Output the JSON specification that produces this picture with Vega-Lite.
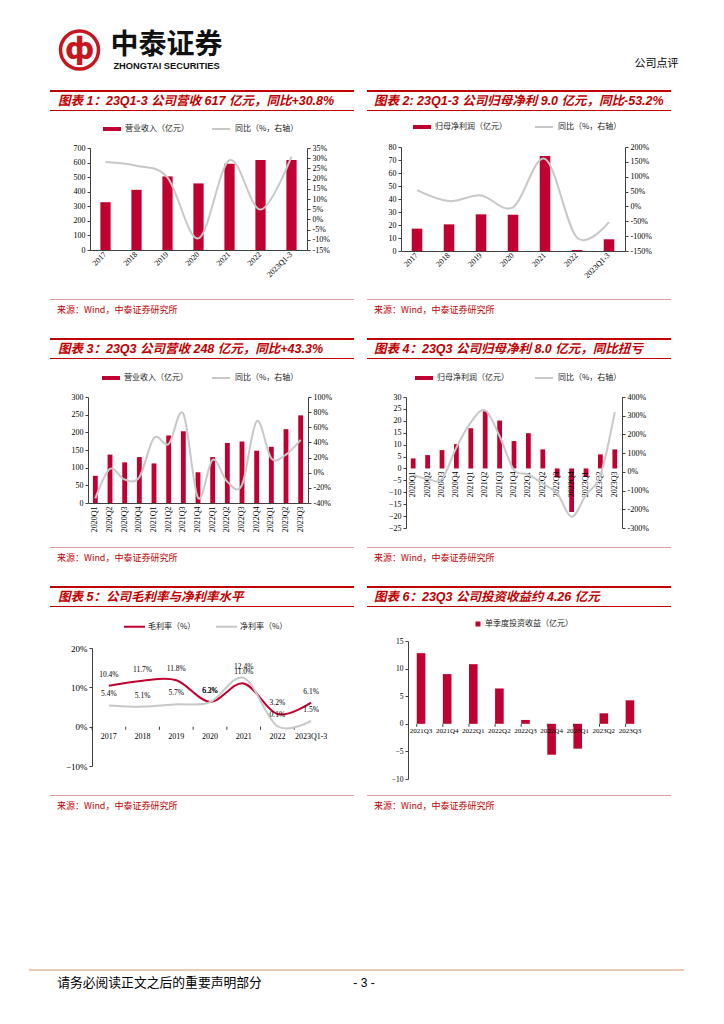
{
"$schema": "https://vega.github.io/schema/vega-lite/v6.json",
"padding": 0,
"background": "white",
"spacing": 0,
"resolve": {"scale": {"fill": "independent", "stroke": "independent"}, "legend": {"fill": "independent", "stroke": "independent"}},
"config": {
  "view": {"stroke": null},
  "concat": {"spacing": 0},
  "axis": {"labelFont": "Liberation Serif", "labelFontSize": 8, "labelColor": "#000000", "domainColor": "#404040", "tickColor": "#404040", "tickSize": 3, "labelPadding": 2, "grid": false, "titleFontSize": 1, "titleAngle": 0, "titleAlign": "left", "titleBaseline": "top", "titlePadding": 0},
  "legend": {"labelFont": "Noto Sans CJK SC", "labelFontSize": 8, "labelColor": "#1a1a1a", "padding": 0, "labelOffset": 4}
},
"vconcat": [
{"spacing": 0, "vconcat": [
  {"width": 724, "height": 24, "data": {"values": []}, "mark": "point"},
  {"spacing": 0, "hconcat": [
    {"width": 53, "height": 1, "data": {"values": []}, "mark": "point"},
    {"width": 43, "height": 42, "data": {"values": [{}]}, "layer": [
      {"mark": {"type": "point", "shape": "circle", "size": 1444, "filled": false, "color": "#C8161E", "strokeWidth": 3.5, "opacity": 1}},
      {"mark": {"type": "text", "text": "ф", "font": "DejaVu Sans", "fontSize": 30, "fontWeight": "bold", "color": "#C8161E"}}
    ]},
    {"width": 4, "height": 1, "data": {"values": []}, "mark": "point"},
    {"width": 113, "height": 44, "data": {"values": [{}]}, "layer": [
      {"mark": {"type": "text", "text": "中泰证券", "font": "Noto Sans CJK SC", "fontSize": 28, "fontWeight": "bold", "color": "#111111", "dy": -5}},
      {"mark": {"type": "text", "text": "ZHONGTAI SECURITIES", "font": "Liberation Sans", "fontSize": 9.3, "fontWeight": "bold", "color": "#111111", "dy": 14.5}}
    ]},
    {"width": 408, "height": 1, "data": {"values": []}, "mark": "point"},
    {"width": 51, "height": 46, "data": {"values": [{}]}, "mark": {"type": "text", "text": "公司点评", "font": "Noto Sans CJK SC", "fontSize": 11, "color": "#000000", "dy": 12}}
  ]},
  {"width": 724, "height": 14, "data": {"values": []}, "mark": "point"}
]},
{"spacing": 0,
 "resolve": {"scale": {"fill": "independent", "stroke": "independent"}, "legend": {"fill": "independent", "stroke": "independent"}},
 "hconcat": [
  {"width": 50, "height": 1, "data": {"values": []}, "mark": "point"},
  {"spacing": 0,
   "resolve": {"scale": {"fill": "independent", "stroke": "independent"}, "legend": {"fill": "independent", "stroke": "independent"}},
   "vconcat": [
    {"width": 304, "height": 2, "data": {"values": []}, "mark": "point", "view": {"fill": "#C00000"}},
    {"width": 304, "height": 18, "data": {"values": [{}]}, "mark": {"type": "text", "text": "图表 1：23Q1-3 公司营收 617 亿元，同比+30.8%", "align": "left", "baseline": "middle", "dx": 8, "font": "Liberation Sans, Noto Sans CJK SC", "fontSize": 12.5, "fontStyle": "italic", "fontWeight": "bold", "color": "#C00000"},
     "encoding": {"x": {"datum": 0, "type": "quantitative", "scale": {"domain": [0, 1]}, "axis": null}}},
    {"width": 304, "height": 1, "data": {"values": []}, "mark": "point", "view": {"fill": "#C00000"}},
    {"width": 304, "height": 3, "data": {"values": []}, "mark": "point"},
    {"spacing": 0, "resolve": {"scale": {"fill": "independent", "stroke": "independent"}, "legend": {"fill": "independent", "stroke": "independent"}}, "hconcat": [
      {"width": 10, "height": 1, "data": {"values": []}, "mark": "point"},
      {"width": 217, "height": 102,
       "data": {"values": [
         {"year": "2017", "rev": 328, "yoy": 28.1},
         {"year": "2018", "rev": 413, "yoy": 26.3},
         {"year": "2019", "rev": 505, "yoy": 20.5},
         {"year": "2020", "rev": 457, "yoy": -9.3},
         {"year": "2021", "rev": 592, "yoy": 29.0},
         {"year": "2022", "rev": 618, "yoy": 4.8},
         {"year": "2023Q1-3", "rev": 617, "yoy": 30.8}
       ]},
       "encoding": {"x": {"field": "year", "type": "ordinal", "sort": null, "scale": {"type": "band", "paddingInner": 0.67, "paddingOuter": 0.335},
         "axis": {"labelAngle": -45, "labelAlign": "right", "labelBaseline": "middle", "labelPadding": 3, "ticks": false, "title": " ", "titleX": 0, "titleY": 30, "titleFontSize": 1, "titleBaseline": "top", "titleAlign": "left", "titleAngle": 0}}},
       "layer": [
         {"mark": {"type": "bar"}, "encoding": {
           "y": {"field": "rev", "type": "quantitative", "scale": {"domain": [0, 700], "nice": false}, "axis": {"orient": "left", "values": [0, 100, 200, 300, 400, 500, 600, 700], "title": " ", "titleX": -30, "titleY": -34, "titleFontSize": 1, "titleBaseline": "top", "titleAlign": "left", "titleAngle": 0}},
           "fill": {"datum": "营业收入（亿元）", "type": "nominal", "scale": {"range": ["#C00030"]}, "legend": {"orient": "none", "legendX": 13, "legendY": -28, "title": null, "symbolType": "M-1,-0.22H1V0.22H-1Z", "symbolSize": 324, "symbolStrokeWidth": 0}}}},
         {"mark": {"type": "line", "interpolate": "cardinal", "strokeWidth": 2}, "encoding": {
           "y": {"field": "yoy", "type": "quantitative", "scale": {"domain": [-15, 35], "nice": false}, "axis": {"orient": "right", "values": [-15, -10, -5, 0, 5, 10, 15, 20, 25, 30, 35], "labelExpr": "datum.value + '%'", "title": null}},
           "stroke": {"datum": "同比（%，右轴）", "type": "nominal", "scale": {"range": ["#C8C8C8"]}, "legend": {"orient": "none", "legendX": 121, "legendY": -29, "title": null, "symbolType": "stroke", "symbolSize": 324, "symbolStrokeWidth": 2}}}}
       ],
       "resolve": {"scale": {"y": "independent"}}}
    ]},
    {"width": 304, "height": 18, "data": {"values": []}, "mark": "point"},
    {"width": 304, "height": 1, "data": {"values": []}, "mark": "point", "view": {"fill": "#E99A9A"}},
    {"width": 304, "height": 20, "data": {"values": [{}]}, "mark": {"type": "text", "text": "来源：Wind，中泰证券研究所", "align": "left", "baseline": "middle", "dx": 7, "font": "Noto Sans CJK SC", "fontSize": 9, "color": "#C00000"},
     "encoding": {"x": {"datum": 0, "type": "quantitative", "scale": {"domain": [0, 1]}, "axis": null}}},
    {"width": 304, "height": 18, "data": {"values": []}, "mark": "point"}
  ]},
  {"width": 13, "height": 1, "data": {"values": []}, "mark": "point"},
  {"spacing": 0,
   "resolve": {"scale": {"fill": "independent", "stroke": "independent"}, "legend": {"fill": "independent", "stroke": "independent"}},
   "vconcat": [
    {"width": 304, "height": 2, "data": {"values": []}, "mark": "point", "view": {"fill": "#C00000"}},
    {"width": 304, "height": 18, "data": {"values": [{}]}, "mark": {"type": "text", "text": "图表 2: 23Q1-3 公司归母净利 9.0 亿元，同比-53.2%", "align": "left", "baseline": "middle", "dx": 7, "font": "Liberation Sans, Noto Sans CJK SC", "fontSize": 12.5, "fontStyle": "italic", "fontWeight": "bold", "color": "#C00000"},
     "encoding": {"x": {"datum": 0, "type": "quantitative", "scale": {"domain": [0, 1]}, "axis": null}}},
    {"width": 304, "height": 1, "data": {"values": []}, "mark": "point", "view": {"fill": "#C00000"}},
    {"width": 304, "height": 2, "data": {"values": []}, "mark": "point"},
    {"spacing": 0, "resolve": {"scale": {"fill": "independent", "stroke": "independent"}, "legend": {"fill": "independent", "stroke": "independent"}}, "hconcat": [
      {"width": 4, "height": 1, "data": {"values": []}, "mark": "point"},
      {"width": 224, "height": 104,
       "data": {"values": [
         {"year": "2017", "np": 17.2, "yoy": 55},
         {"year": "2018", "np": 20.5, "yoy": 18},
         {"year": "2019", "np": 28.2, "yoy": 37},
         {"year": "2020", "np": 27.9, "yoy": -3},
         {"year": "2021", "np": 73.1, "yoy": 160},
         {"year": "2022", "np": 0.8, "yoy": -105},
         {"year": "2023Q1-3", "np": 9.0, "yoy": -53.2}
       ]},
       "encoding": {"x": {"field": "year", "type": "ordinal", "sort": null, "scale": {"type": "band", "paddingInner": 0.67, "paddingOuter": 0.335},
         "axis": {"labelAngle": -45, "labelAlign": "right", "labelBaseline": "middle", "labelPadding": 3, "ticks": false, "title": " ", "titleX": 0, "titleY": 30, "titleFontSize": 1, "titleBaseline": "top", "titleAlign": "left", "titleAngle": 0}}},
       "layer": [
         {"mark": {"type": "bar"}, "encoding": {
           "y": {"field": "np", "type": "quantitative", "scale": {"domain": [0, 80], "nice": false}, "axis": {"orient": "left", "values": [0, 10, 20, 30, 40, 50, 60, 70, 80], "title": " ", "titleX": -30, "titleY": -34, "titleFontSize": 1, "titleBaseline": "top", "titleAlign": "left", "titleAngle": 0}},
           "fill": {"datum": "归母净利润（亿元）", "type": "nominal", "scale": {"range": ["#C00030"]}, "legend": {"orient": "none", "legendX": 12, "legendY": -29, "title": null, "symbolType": "M-1,-0.22H1V0.22H-1Z", "symbolSize": 324, "symbolStrokeWidth": 0}}}},
         {"mark": {"type": "line", "interpolate": "cardinal", "strokeWidth": 2}, "encoding": {
           "y": {"field": "yoy", "type": "quantitative", "scale": {"domain": [-150, 200], "nice": false}, "axis": {"orient": "right", "values": [-150, -100, -50, 0, 50, 100, 150, 200], "labelExpr": "datum.value + '%'", "title": null}},
           "stroke": {"datum": "同比（%，右轴）", "type": "nominal", "scale": {"range": ["#C8C8C8"]}, "legend": {"orient": "none", "legendX": 133, "legendY": -30, "title": null, "symbolType": "stroke", "symbolSize": 324, "symbolStrokeWidth": 2}}}}
       ],
       "resolve": {"scale": {"y": "independent"}}}
    ]},
    {"width": 304, "height": 17, "data": {"values": []}, "mark": "point"},
    {"width": 304, "height": 1, "data": {"values": []}, "mark": "point", "view": {"fill": "#E99A9A"}},
    {"width": 304, "height": 20, "data": {"values": [{}]}, "mark": {"type": "text", "text": "来源：Wind，中泰证券研究所", "align": "left", "baseline": "middle", "dx": 7, "font": "Noto Sans CJK SC", "fontSize": 9, "color": "#C00000"},
     "encoding": {"x": {"datum": 0, "type": "quantitative", "scale": {"domain": [0, 1]}, "axis": null}}},
    {"width": 304, "height": 18, "data": {"values": []}, "mark": "point"}
  ]}
]},
{"spacing": 0,
 "resolve": {"scale": {"fill": "independent", "stroke": "independent"}, "legend": {"fill": "independent", "stroke": "independent"}},
 "hconcat": [
  {"width": 50, "height": 1, "data": {"values": []}, "mark": "point"},
  {"spacing": 0,
   "resolve": {"scale": {"fill": "independent", "stroke": "independent"}, "legend": {"fill": "independent", "stroke": "independent"}},
   "vconcat": [
    {"width": 304, "height": 2, "data": {"values": []}, "mark": "point", "view": {"fill": "#C00000"}},
    {"width": 304, "height": 18, "data": {"values": [{}]}, "mark": {"type": "text", "text": "图表 3：23Q3 公司营收 248 亿元，同比+43.3%", "align": "left", "baseline": "middle", "dx": 8, "font": "Liberation Sans, Noto Sans CJK SC", "fontSize": 12.5, "fontStyle": "italic", "fontWeight": "bold", "color": "#C00000"},
     "encoding": {"x": {"datum": 0, "type": "quantitative", "scale": {"domain": [0, 1]}, "axis": null}}},
    {"width": 304, "height": 1, "data": {"values": []}, "mark": "point", "view": {"fill": "#C00000"}},
    {"width": 304, "height": 4, "data": {"values": []}, "mark": "point"},
    {"spacing": 0, "resolve": {"scale": {"fill": "independent", "stroke": "independent"}, "legend": {"fill": "independent", "stroke": "independent"}}, "hconcat": [
      {"width": 8, "height": 1, "data": {"values": []}, "mark": "point"},
      {"width": 220, "height": 106,
       "data": {"values": [
         {"q": "2020Q1", "rev": 77, "yoy": -34},
         {"q": "2020Q2", "rev": 137, "yoy": 5},
         {"q": "2020Q3", "rev": 115, "yoy": -9},
         {"q": "2020Q4", "rev": 130, "yoy": -6},
         {"q": "2021Q1", "rev": 112, "yoy": 46},
         {"q": "2021Q2", "rev": 191, "yoy": 38},
         {"q": "2021Q3", "rev": 203, "yoy": 78},
         {"q": "2021Q4", "rev": 87, "yoy": -33},
         {"q": "2022Q1", "rev": 130, "yoy": 17},
         {"q": "2022Q2", "rev": 170, "yoy": -12},
         {"q": "2022Q3", "rev": 174, "yoy": -16},
         {"q": "2022Q4", "rev": 148, "yoy": 68},
         {"q": "2023Q1", "rev": 159, "yoy": 19},
         {"q": "2023Q2", "rev": 209, "yoy": 24},
         {"q": "2023Q3", "rev": 248, "yoy": 43.3}
       ]},
       "encoding": {"x": {"field": "q", "type": "ordinal", "sort": null, "scale": {"type": "band", "paddingInner": 0.67, "paddingOuter": 0.335},
         "axis": {"labelAngle": -90, "labelAlign": "right", "labelBaseline": "middle", "labelPadding": 3, "ticks": false, "title": " ", "titleX": 0, "titleY": 30, "titleFontSize": 1, "titleBaseline": "top", "titleAlign": "left", "titleAngle": 0}}},
       "layer": [
         {"mark": {"type": "bar"}, "encoding": {
           "y": {"field": "rev", "type": "quantitative", "scale": {"domain": [0, 300], "nice": false}, "axis": {"orient": "left", "values": [0, 50, 100, 150, 200, 250, 300], "title": " ", "titleX": -30, "titleY": -34, "titleFontSize": 1, "titleBaseline": "top", "titleAlign": "left", "titleAngle": 0}},
           "fill": {"datum": "营业收入（亿元）", "type": "nominal", "scale": {"range": ["#C00030"]}, "legend": {"orient": "none", "legendX": 14, "legendY": -28, "title": null, "symbolType": "M-1,-0.22H1V0.22H-1Z", "symbolSize": 324, "symbolStrokeWidth": 0}}}},
         {"mark": {"type": "line", "interpolate": "cardinal", "strokeWidth": 2}, "encoding": {
           "y": {"field": "yoy", "type": "quantitative", "scale": {"domain": [-40, 100], "nice": false}, "axis": {"orient": "right", "values": [-40, -20, 0, 20, 40, 60, 80, 100], "labelExpr": "datum.value + '%'", "title": null}},
           "stroke": {"datum": "同比（%，右轴）", "type": "nominal", "scale": {"range": ["#C8C8C8"]}, "legend": {"orient": "none", "legendX": 123, "legendY": -29, "title": null, "symbolType": "stroke", "symbolSize": 324, "symbolStrokeWidth": 2}}}}
       ],
       "resolve": {"scale": {"y": "independent"}}}
    ]},
    {"width": 304, "height": 13, "data": {"values": []}, "mark": "point"},
    {"width": 304, "height": 1, "data": {"values": []}, "mark": "point", "view": {"fill": "#E99A9A"}},
    {"width": 304, "height": 20, "data": {"values": [{}]}, "mark": {"type": "text", "text": "来源：Wind，中泰证券研究所", "align": "left", "baseline": "middle", "dx": 7, "font": "Noto Sans CJK SC", "fontSize": 9, "color": "#C00000"},
     "encoding": {"x": {"datum": 0, "type": "quantitative", "scale": {"domain": [0, 1]}, "axis": null}}},
    {"width": 304, "height": 18, "data": {"values": []}, "mark": "point"}
  ]},
  {"width": 13, "height": 1, "data": {"values": []}, "mark": "point"},
  {"spacing": 0,
   "resolve": {"scale": {"fill": "independent", "stroke": "independent"}, "legend": {"fill": "independent", "stroke": "independent"}},
   "vconcat": [
    {"width": 304, "height": 2, "data": {"values": []}, "mark": "point", "view": {"fill": "#C00000"}},
    {"width": 304, "height": 18, "data": {"values": [{}]}, "mark": {"type": "text", "text": "图表 4：23Q3 公司归母净利 8.0 亿元，同比扭亏", "align": "left", "baseline": "middle", "dx": 7, "font": "Liberation Sans, Noto Sans CJK SC", "fontSize": 12.5, "fontStyle": "italic", "fontWeight": "bold", "color": "#C00000"},
     "encoding": {"x": {"datum": 0, "type": "quantitative", "scale": {"domain": [0, 1]}, "axis": null}}},
    {"width": 304, "height": 1, "data": {"values": []}, "mark": "point", "view": {"fill": "#C00000"}},
    {"width": 304, "height": 4, "data": {"values": []}, "mark": "point"},
    {"spacing": 0, "resolve": {"scale": {"fill": "independent", "stroke": "independent"}, "legend": {"fill": "independent", "stroke": "independent"}}, "hconcat": [
      {"width": 9, "height": 1, "data": {"values": []}, "mark": "point"},
      {"width": 216, "height": 131,
       "data": {"values": [
         {"q": "2020Q1", "np": 4.2, "yoy": -16},
         {"q": "2020Q2", "np": 5.6, "yoy": -38},
         {"q": "2020Q3", "np": 7.7, "yoy": -38},
         {"q": "2020Q4", "np": 10.2, "yoy": 130},
         {"q": "2021Q1", "np": 16.9, "yoy": 265},
         {"q": "2021Q2", "np": 24.0, "yoy": 329},
         {"q": "2021Q3", "np": 20.1, "yoy": 190},
         {"q": "2021Q4", "np": 11.5, "yoy": 10},
         {"q": "2022Q1", "np": 14.8, "yoy": -13},
         {"q": "2022Q2", "np": 8.0, "yoy": -63},
         {"q": "2022Q3", "np": -3.8, "yoy": -115},
         {"q": "2022Q4", "np": -18.3, "yoy": -240},
         {"q": "2023Q1", "np": -3.6, "yoy": -123},
         {"q": "2023Q2", "np": 5.9, "yoy": -18},
         {"q": "2023Q3", "np": 8.0, "yoy": 320}
       ]},
       "encoding": {"x": {"field": "q", "type": "ordinal", "sort": null, "scale": {"type": "band", "paddingInner": 0.67, "paddingOuter": 0.335},
         "axis": {"labels": false, "ticks": false, "domain": false, "title": " ", "titleX": 0, "titleY": 6, "titleFontSize": 1, "titleBaseline": "top", "titleAlign": "left", "titleAngle": 0}}},
       "layer": [
         {"mark": {"type": "bar"}, "encoding": {
           "y": {"field": "np", "type": "quantitative", "scale": {"domain": [-25, 30], "nice": false}, "axis": {"orient": "left", "values": [-25, -20, -15, -10, -5, 0, 5, 10, 15, 20, 25, 30], "title": " ", "titleX": -30, "titleY": -34, "titleFontSize": 1, "titleBaseline": "top", "titleAlign": "left", "titleAngle": 0}},
           "fill": {"datum": "归母净利润（亿元）", "type": "nominal", "scale": {"range": ["#C00030"]}, "legend": {"orient": "none", "legendX": 9, "legendY": -28, "title": null, "symbolType": "M-1,-0.22H1V0.22H-1Z", "symbolSize": 324, "symbolStrokeWidth": 0}}}},
         {"mark": {"type": "rule", "color": "#404040", "strokeWidth": 1}, "encoding": {
           "y": {"datum": 0, "type": "quantitative", "scale": {"domain": [-25, 30], "nice": false}, "axis": null}}},
         {"mark": {"type": "text", "angle": 270, "align": "right", "baseline": "middle", "dx": -3, "font": "Liberation Serif", "fontSize": 8, "color": "#000000"}, "encoding": {
           "y": {"datum": 0, "type": "quantitative", "scale": {"domain": [-25, 30], "nice": false}, "axis": null},
           "text": {"field": "q"}}},
         {"mark": {"type": "line", "interpolate": "cardinal", "strokeWidth": 2}, "encoding": {
           "y": {"field": "yoy", "type": "quantitative", "scale": {"domain": [-300, 400], "nice": false}, "axis": {"orient": "right", "values": [-300, -200, -100, 0, 100, 200, 300, 400], "labelExpr": "datum.value + '%'", "title": null}},
           "stroke": {"datum": "同比（%，右轴）", "type": "nominal", "scale": {"range": ["#C8C8C8"]}, "legend": {"orient": "none", "legendX": 128, "legendY": -29, "title": null, "symbolType": "stroke", "symbolSize": 324, "symbolStrokeWidth": 2}}}}
       ],
       "resolve": {"scale": {"y": "independent"}}}
    ]},
    {"width": 304, "height": 12, "data": {"values": []}, "mark": "point"},
    {"width": 304, "height": 1, "data": {"values": []}, "mark": "point", "view": {"fill": "#E99A9A"}},
    {"width": 304, "height": 20, "data": {"values": [{}]}, "mark": {"type": "text", "text": "来源：Wind，中泰证券研究所", "align": "left", "baseline": "middle", "dx": 7, "font": "Noto Sans CJK SC", "fontSize": 9, "color": "#C00000"},
     "encoding": {"x": {"datum": 0, "type": "quantitative", "scale": {"domain": [0, 1]}, "axis": null}}},
    {"width": 304, "height": 18, "data": {"values": []}, "mark": "point"}
  ]}
]},
{"spacing": 0,
 "resolve": {"scale": {"fill": "independent", "stroke": "independent"}, "legend": {"fill": "independent", "stroke": "independent"}},
 "hconcat": [
  {"width": 50, "height": 1, "data": {"values": []}, "mark": "point"},
  {"spacing": 0,
   "resolve": {"scale": {"fill": "independent", "stroke": "independent"}, "legend": {"fill": "independent", "stroke": "independent"}},
   "vconcat": [
    {"width": 304, "height": 2, "data": {"values": []}, "mark": "point", "view": {"fill": "#C00000"}},
    {"width": 304, "height": 18, "data": {"values": [{}]}, "mark": {"type": "text", "text": "图表 5：公司毛利率与净利率水平", "align": "left", "baseline": "middle", "dx": 8, "font": "Liberation Sans, Noto Sans CJK SC", "fontSize": 12.5, "fontStyle": "italic", "fontWeight": "bold", "color": "#C00000"},
     "encoding": {"x": {"datum": 0, "type": "quantitative", "scale": {"domain": [0, 1]}, "axis": null}}},
    {"width": 304, "height": 1, "data": {"values": []}, "mark": "point", "view": {"fill": "#C00000"}},
    {"width": 304, "height": 3, "data": {"values": []}, "mark": "point"},
    {"spacing": 0, "resolve": {"scale": {"fill": "independent", "stroke": "independent"}, "legend": {"fill": "independent", "stroke": "independent"}}, "hconcat": [
      {"width": 12, "height": 1, "data": {"values": []}, "mark": "point"},
      {"width": 236, "height": 118,
       "data": {"values": [
         {"year": "2017", "s": "毛利率（%）", "v": 0.104},
         {"year": "2018", "s": "毛利率（%）", "v": 0.117},
         {"year": "2019", "s": "毛利率（%）", "v": 0.118},
         {"year": "2020", "s": "毛利率（%）", "v": 0.063},
         {"year": "2021", "s": "毛利率（%）", "v": 0.110},
         {"year": "2022", "s": "毛利率（%）", "v": 0.032},
         {"year": "2023Q1-3", "s": "毛利率（%）", "v": 0.061},
         {"year": "2017", "s": "净利率（%）", "v": 0.054},
         {"year": "2018", "s": "净利率（%）", "v": 0.051},
         {"year": "2019", "s": "净利率（%）", "v": 0.057},
         {"year": "2020", "s": "净利率（%）", "v": 0.062},
         {"year": "2021", "s": "净利率（%）", "v": 0.124},
         {"year": "2022", "s": "净利率（%）", "v": 0.001},
         {"year": "2023Q1-3", "s": "净利率（%）", "v": 0.015}
       ]},
       "encoding": {
         "x": {"field": "year", "type": "ordinal", "sort": null, "scale": {"type": "band", "paddingInner": 0, "paddingOuter": 0},
           "axis": {"labels": false, "ticks": false, "domain": false, "title": " ", "titleX": 0, "titleY": 6, "titleFontSize": 1, "titleBaseline": "top", "titleAlign": "left", "titleAngle": 0}},
         "y": {"field": "v", "type": "quantitative", "scale": {"domain": [-0.1, 0.2], "nice": false},
           "axis": {"values": [-0.1, 0, 0.1, 0.2], "format": ".0%", "labelFontSize": 9, "title": " ", "titleX": -30, "titleY": -38, "titleFontSize": 1, "titleBaseline": "top", "titleAlign": "left", "titleAngle": 0}}},
       "layer": [
         {"mark": {"type": "rule", "color": "#404040"}, "encoding": {"y": {"datum": 0}}},
         {"transform": [{"filter": "datum.s === '毛利率（%）'"}], "mark": {"type": "rule", "color": "#404040"}, "encoding": {
           "x": {"field": "year", "type": "ordinal", "sort": null, "bandPosition": 0},
           "y": {"datum": 0}, "y2": {"datum": -0.008}}},
         {"transform": [{"filter": "datum.s === '毛利率（%）'"}], "mark": {"type": "text", "baseline": "middle", "dy": 10, "font": "Liberation Serif", "fontSize": 8, "color": "#000000"}, "encoding": {
           "y": {"datum": 0}, "text": {"field": "year"}}},
         {"mark": {"type": "line", "interpolate": "cardinal", "strokeWidth": 2}, "encoding": {
           "stroke": {"field": "s", "type": "nominal", "scale": {"domain": ["毛利率（%）", "净利率（%）"], "range": ["#C00030", "#C8C8C8"]},
             "legend": {"orient": "none", "direction": "horizontal", "legendX": 31, "legendY": -33, "title": null, "symbolType": "stroke", "symbolSize": 441, "symbolStrokeWidth": 2, "columnPadding": 16, "labelOffset": 2}}}},
         {"mark": {"type": "text", "baseline": "middle", "dy": -11, "font": "Liberation Serif", "fontSize": 7.5, "color": "#000000"}, "encoding": {
           "text": {"field": "v", "type": "quantitative", "format": ".1%"}}}
       ]}
    ]},
    {"width": 304, "height": 22, "data": {"values": []}, "mark": "point"},
    {"width": 304, "height": 1, "data": {"values": []}, "mark": "point", "view": {"fill": "#E99A9A"}},
    {"width": 304, "height": 20, "data": {"values": [{}]}, "mark": {"type": "text", "text": "来源：Wind，中泰证券研究所", "align": "left", "baseline": "middle", "dx": 7, "font": "Noto Sans CJK SC", "fontSize": 9, "color": "#C00000"},
     "encoding": {"x": {"datum": 0, "type": "quantitative", "scale": {"domain": [0, 1]}, "axis": null}}},
    {"width": 304, "height": 153, "data": {"values": []}, "mark": "point"}
  ]},
  {"width": 13, "height": 1, "data": {"values": []}, "mark": "point"},
  {"spacing": 0,
   "resolve": {"scale": {"fill": "independent", "stroke": "independent"}, "legend": {"fill": "independent", "stroke": "independent"}},
   "vconcat": [
    {"width": 304, "height": 2, "data": {"values": []}, "mark": "point", "view": {"fill": "#C00000"}},
    {"width": 304, "height": 18, "data": {"values": [{}]}, "mark": {"type": "text", "text": "图表 6：23Q3 公司投资收益约 4.26 亿元", "align": "left", "baseline": "middle", "dx": 7, "font": "Liberation Sans, Noto Sans CJK SC", "fontSize": 12.5, "fontStyle": "italic", "fontWeight": "bold", "color": "#C00000"},
     "encoding": {"x": {"datum": 0, "type": "quantitative", "scale": {"domain": [0, 1]}, "axis": null}}},
    {"width": 304, "height": 1, "data": {"values": []}, "mark": "point", "view": {"fill": "#C00000"}},
    {"width": 304, "height": 4, "data": {"values": []}, "mark": "point"},
    {"spacing": 0, "resolve": {"scale": {"fill": "independent", "stroke": "independent"}, "legend": {"fill": "independent", "stroke": "independent"}}, "hconcat": [
      {"width": 11, "height": 1, "data": {"values": []}, "mark": "point"},
      {"width": 235, "height": 138,
       "data": {"values": [
         {"q": "2021Q3", "v": 12.8},
         {"q": "2021Q4", "v": 9.0},
         {"q": "2022Q1", "v": 10.8},
         {"q": "2022Q2", "v": 6.4},
         {"q": "2022Q3", "v": 0.7},
         {"q": "2022Q4", "v": -5.6},
         {"q": "2023Q1", "v": -4.5},
         {"q": "2023Q2", "v": 1.9},
         {"q": "2023Q3", "v": 4.26}
       ]},
       "encoding": {
         "x": {"field": "q", "type": "ordinal", "sort": null, "scale": {"type": "band", "paddingInner": 0.67, "paddingOuter": 0.335},
           "axis": {"labels": false, "ticks": false, "domain": false, "title": " ", "titleX": 0, "titleY": 6, "titleFontSize": 1, "titleBaseline": "top", "titleAlign": "left", "titleAngle": 0}},
         "y": {"field": "v", "type": "quantitative", "scale": {"domain": [-10, 15], "nice": false},
           "axis": {"values": [-10, -5, 0, 5, 10, 15], "labelFontSize": 7.5, "title": " ", "titleX": -30, "titleY": -30, "titleFontSize": 1, "titleBaseline": "top", "titleAlign": "left", "titleAngle": 0}}},
       "layer": [
         {"mark": {"type": "bar"}, "encoding": {
           "fill": {"datum": "单季度投资收益（亿元）", "type": "nominal", "scale": {"range": ["#C00030"]}, "legend": {"orient": "none", "legendX": 66, "legendY": -21, "title": null, "symbolType": "square", "symbolSize": 25, "symbolStrokeWidth": 0, "labelOffset": 3}}}},
         {"mark": {"type": "rule", "color": "#404040"}, "encoding": {"y": {"datum": 0}}},
         {"mark": {"type": "rule", "color": "#404040"}, "encoding": {
           "x": {"field": "q", "type": "ordinal", "sort": null, "bandPosition": 0},
           "y": {"datum": 0}, "y2": {"datum": -0.55}}},
         {"mark": {"type": "text", "baseline": "middle", "dy": 7, "font": "Liberation Serif", "fontSize": 7, "color": "#000000"}, "encoding": {
           "y": {"datum": 0}, "text": {"field": "q"}}}
       ]}
    ]},
    {"width": 304, "height": 9, "data": {"values": []}, "mark": "point"},
    {"width": 304, "height": 1, "data": {"values": []}, "mark": "point", "view": {"fill": "#E99A9A"}},
    {"width": 304, "height": 20, "data": {"values": [{}]}, "mark": {"type": "text", "text": "来源：Wind，中泰证券研究所", "align": "left", "baseline": "middle", "dx": 7, "font": "Noto Sans CJK SC", "fontSize": 9, "color": "#C00000"},
     "encoding": {"x": {"datum": 0, "type": "quantitative", "scale": {"domain": [0, 1]}, "axis": null}}},
    {"width": 304, "height": 153, "data": {"values": []}, "mark": "point"}
  ]}
]},
{"spacing": 0, "vconcat": [
  {"spacing": 0, "hconcat": [
    {"width": 29, "height": 2, "data": {"values": []}, "mark": "point"},
    {"width": 655, "height": 2, "data": {"values": []}, "mark": "point", "view": {"fill": "#EDC8B4"}}
  ]},
  {"spacing": 0, "hconcat": [
    {"width": 57, "height": 1, "data": {"values": []}, "mark": "point"},
    {"width": 205, "height": 24, "data": {"values": [{}]}, "mark": {"type": "text", "text": "请务必阅读正文之后的重要声明部分", "font": "Noto Sans CJK SC", "fontSize": 12.8, "color": "#000000"}},
    {"width": 91, "height": 1, "data": {"values": []}, "mark": "point"},
    {"width": 22, "height": 24, "data": {"values": [{}]}, "mark": {"type": "text", "text": "- 3 -", "font": "Liberation Sans", "fontSize": 12, "color": "#000000"}}
  ]}
]}
]
}
